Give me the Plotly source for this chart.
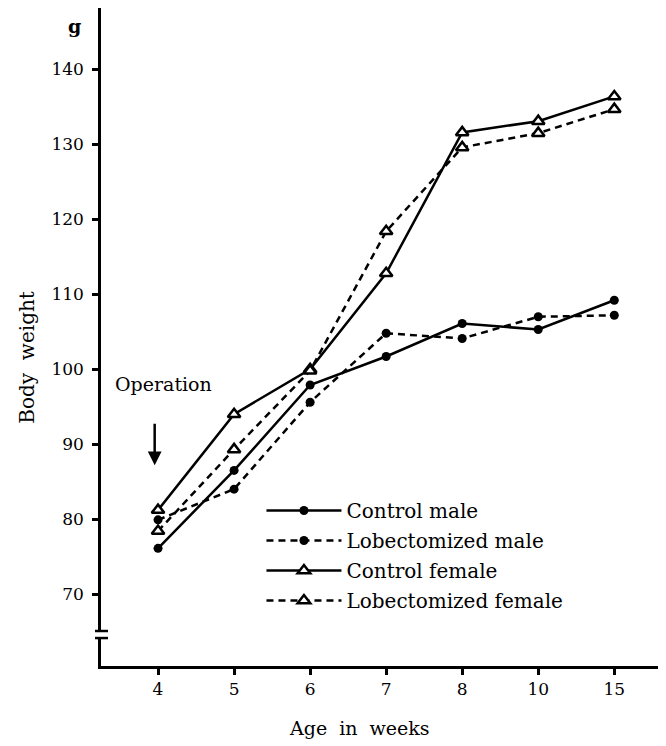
import plotly.graph_objects as go

weeks = ["4", "5", "6", "7", "8", "10", "15"]
control_male = [76.1, 86.5, 97.9, 101.7, 106.1, 105.3, 109.2]
lobect_male = [79.9, 84.0, 95.6, 104.8, 104.1, 107.0, 107.2]
control_female = [81.2, 94.0, 100.0, 112.8, 131.6, 133.1, 136.4]
lobect_female = [78.4, 89.3, 99.8, 118.4, 129.6, 131.5, 134.7]

y_ticks = [70, 80, 90, 100, 110, 120, 130, 140]
y_ticktext = ["70", "80", "90", "100", "110", "120", "130", "140"]

FONT = "DejaVu Serif, serif"
DASH = "7px,5px"

series = [
    ("Control male", control_male, "solid", "circle"),
    ("Lobectomized male", lobect_male, DASH, "circle"),
    ("Control female", control_female, "solid", "triangle-up"),
    ("Lobectomized female", lobect_female, DASH, "triangle-up"),
]

fig = go.Figure()
for i, (name, vals, dash, sym) in enumerate(series):
    if sym == "circle":
        marker = dict(symbol="circle", size=9, color="black")
    else:
        marker = dict(symbol="triangle-up", size=11, color="white",
                      line=dict(color="black", width=2.5))
    fig.add_trace(go.Scatter(
        x=weeks, y=vals, name=name, mode="lines+markers",
        line=dict(color="black", width=2.5, dash=dash),
        marker=marker, legendgroup=f"g{i}",
    ))

fig.update_layout(
    width=666, height=746,
    margin=dict(l=93, r=8, t=0, b=88),
    paper_bgcolor="white", plot_bgcolor="white",
    font=dict(family=FONT, size=17, color="black"),
    showlegend=True,
    legend=dict(x=0.284, y=0.266, xanchor="left", yanchor="top",
                bgcolor="rgba(0,0,0,0)", borderwidth=0,
                font=dict(family=FONT, size=20, color="black"),
                tracegroupgap=1, itemwidth=75),
    xaxis=dict(type="category", range=[-0.75, 6.68],
               showline=True, linecolor="black", linewidth=2.5,
               ticks="outside", ticklen=6, tickwidth=2.5, tickcolor="black",
               showgrid=False, zeroline=False,
               tickfont=dict(family=FONT, size=17)),
    yaxis=dict(range=[60.4, 148.2], tickvals=y_ticks, ticktext=y_ticktext,
               showline=True, linecolor="black", linewidth=2.5,
               ticks="outside", ticklen=6, tickwidth=2.5, tickcolor="black",
               ticklabelstandoff=5,
               showgrid=False, zeroline=False,
               tickfont=dict(family=FONT, size=17)),
)

# axis titles (placed off-centre as in the original)
fig.add_annotation(text="Age  in  weeks", xref="paper", yref="paper", x=0.458, y=-0.094,
                   xanchor="center", yanchor="middle", showarrow=False,
                   font=dict(family=FONT, size=19))
fig.add_annotation(text="Body  weight", xref="paper", yref="paper", x=-0.131, y=0.47,
                   xanchor="center", yanchor="middle", textangle=-90, showarrow=False,
                   font=dict(family=FONT, size=20))

# axis break marks on the y axis
fig.add_shape(type="rect", xref="paper", yref="y", x0=-0.012, x1=0.012,
              y0=64.2, y1=65.0, fillcolor="white", line=dict(width=0), layer="above")
for yb in (65.07, 64.13):
    fig.add_shape(type="line", xref="paper", yref="y", x0=-0.0106, x1=0.0124,
                  y0=yb, y1=yb, line=dict(color="black", width=2.5), layer="above")

# unit label
fig.add_annotation(text="<b>g</b>", xref="paper", yref="y", x=-0.062, y=145.8,
                   showarrow=False, font=dict(family=FONT, size=19))

# Operation label and arrow
fig.add_annotation(text="Operation", xref="paper", yref="y", x=0.021, y=98.0,
                   xanchor="left", showarrow=False, font=dict(family=FONT, size=19))
fig.add_annotation(text="", xref="paper", yref="y", axref="pixel", ayref="pixel",
                   x=0.095, y=87.2, ax=0, ay=-43,
                   showarrow=True, arrowhead=2, arrowsize=1.1, arrowwidth=2.5,
                   arrowcolor="black")

fig.write_html("out.html")
